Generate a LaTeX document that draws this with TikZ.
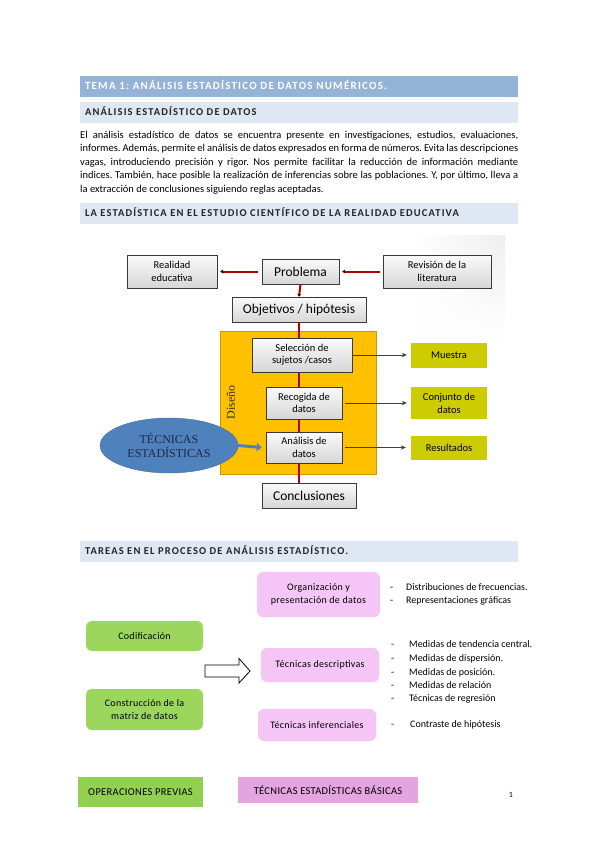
\documentclass[tikz,border=0pt]{standalone}
\usepackage{fontspec}
\setmainfont{Carlito}
\newfontfamily\capsfont[LetterSpace=11]{Carlito}
\newfontfamily\lsfont[LetterSpace=3]{Carlito}
\newfontfamily\serifont{Liberation Serif}
\usetikzlibrary{shapes.geometric,arrows.meta,shadows,fadings}
\definecolor{barblue}{RGB}{149,179,215}
\definecolor{barlight}{RGB}{222,231,242}
\definecolor{orangeD}{RGB}{255,192,0}
\definecolor{oliveY}{RGB}{204,204,0}
\definecolor{ellblue}{RGB}{79,129,189}
\definecolor{darkred}{RGB}{175,0,0}
\definecolor{greenbox}{RGB}{156,214,92}
\definecolor{greenop}{RGB}{146,208,80}
\definecolor{pinkbox}{RGB}{245,198,245}
\definecolor{pinkop}{RGB}{228,164,224}
\definecolor{ellText}{RGB}{30,40,70}
\frenchspacing
\begin{document}
\begin{tikzpicture}[x=1pt,y=-1pt,
  bar/.style={rectangle, fill=barlight, minimum width=438, minimum height=21, inner xsep=5, text width=428, align=left, text height=7.5, text depth=2, font=\capsfont\bfseries\fontsize{10.5}{12}\selectfont, text=black!85},
  gbox/.style={rectangle, top color=gray!4, bottom color=gray!32, draw=gray!45!black, line width=0.5pt, align=center, inner sep=1, drop shadow={opacity=0.35, shadow xshift=1.2pt, shadow yshift=-1.2pt}},
  obox/.style={rectangle, fill=oliveY, align=center, inner sep=1, minimum width=76, font=\fontsize{10.5}{13}\selectfont},
  redline/.style={draw=darkred, line width=2pt},
  garrow/.style={draw=black!75, line width=0.8pt, -{Stealth[length=5pt,width=4.5pt]}},
  pbox/.style={rectangle, rounded corners=6, fill=pinkbox, align=center, font=\lsfont\fontsize{10}{13}\selectfont},
  grbox/.style={rectangle, rounded corners=6, fill=greenbox, align=center, font=\lsfont\fontsize{10}{13}\selectfont},
  bul/.style={anchor=base west, inner sep=0, font=\fontsize{10}{12}\selectfont}
]
\useasboundingbox (0,0) rectangle (599,848);
\fill[white] (0,0) rectangle (599,848);

% header bars
\node[bar, fill=barblue, text=white, font=\capsfont\bfseries\fontsize{11}{13}\selectfont] (bar1) at (299,86.5) {TEMA 1: ANÁLISIS ESTADÍSTICO DE DATOS NUMÉRICOS.};
\node[bar] (bar2) at (299,113) {ANÁLISIS ESTADÍSTICO DE DATOS};

% paragraph
\node[anchor=north west, inner sep=0, text width=438, align=justify, font=\fontsize{10.5}{13.5}\selectfont] (par) at (80,130.6) {El análisis estadístico de datos se encuentra presente en investigaciones, estudios, evaluaciones,\linebreak informes. Además, permite el análisis de datos expresados en forma de números. Evita las descripciones\linebreak vagas, introduciendo precisión y rigor. Nos permite facilitar la reducción de información mediante\linebreak indices. También, hace posible la realización de inferencias sobre las poblaciones. Y, por último, lleva a\linebreak la extracción de conclusiones siguiendo reglas aceptadas.};

\node[bar] (bar3) at (299,213.5) {LA ESTADÍSTICA EN EL ESTUDIO CIENTÍFICO DE LA REALIDAD EDUCATIVA};

% flowchart background tint
\shade[left color=white, right color=gray!13, path fading=south] (415,236) rectangle (505,338);

% top row
\node[gbox, minimum width=90, minimum height=33, font=\fontsize{10.5}{12.5}\selectfont] (real) at (172,271.5) {Realidad\\educativa};
\node[gbox, minimum width=77, minimum height=25, font=\fontsize{13.5}{15}\selectfont] (prob) at (300.5,271.5) {Problema};
\node[gbox, minimum width=108, minimum height=33, font=\fontsize{10.5}{12.5}\selectfont] (rev) at (437,271.5) {Revisión de la\\literatura};
\node[gbox, minimum width=134, minimum height=25, font=\fontsize{13.5}{15}\selectfont] (obj) at (299,309.5) {Objetivos / hipótesis};

\draw[redline, {Stealth[black,length=3pt,width=4pt]}-] ([xshift=3pt]real.east) -- ([xshift=-4pt]prob.west);
\draw[redline, {Stealth[black,length=3pt,width=4pt]}-] ([xshift=3pt]prob.east) -- ([xshift=-3pt]rev.west);
\draw[redline, -{Stealth[black,length=3pt,width=4pt]}] (prob.south) -- (obj.north);

% design box
\node[rectangle, fill=orangeD, draw=orangeD!80!black, line width=0.5pt, minimum width=156, minimum height=143] (dis) at (298.5,402.5) {};
\node[rotate=90, font=\serifont\fontsize{12}{14}\selectfont, text=black!80, inner sep=0] (dislab) at (231,402) {Diseño};
\node[gbox, minimum width=94, minimum height=25, font=\fontsize{13.5}{15}\selectfont] (concl) at (309,495.5) {Conclusiones};
\draw[redline] (obj.south) -- (obj.south |- concl.north);

\node[gbox, minimum width=100, minimum height=34, font=\fontsize{10.5}{12.5}\selectfont] (sel) at (302,355) {Selección de\\sujetos /casos};
\node[gbox, minimum width=76, minimum height=32, font=\fontsize{10.5}{12.5}\selectfont] (rec) at (304,403) {Recogida de\\datos};
\node[gbox, minimum width=76, minimum height=31, font=\fontsize{10.5}{12.5}\selectfont] (ana) at (304,447.5) {Análisis de\\datos};

% right outputs
\node[obox, minimum height=25] (mue) at (449,355) {Muestra};
\node[obox, minimum height=32] (conj) at (449,403) {Conjunto de\\datos};
\node[obox, minimum height=24] (res) at (449,447.5) {Resultados};
\draw[garrow, shorten >=4pt] (sel.east) -- (mue.west);
\draw[garrow, shorten <=3pt, shorten >=4pt] (rec.east) -- (conj.west);
\draw[garrow, shorten <=3pt, shorten >=5pt] (ana.east) -- (res.west);

% ellipse
\node[ellipse, fill=ellblue, draw=ellblue!85!black, line width=0.4pt, minimum width=138, minimum height=55, align=center, text=ellText, font=\serifont\fontsize{12}{14}\selectfont, inner sep=0] (ell) at (169,445.5) {TÉCNICAS\\ESTADÍSTICAS};
\draw[draw=ellblue, line width=3pt, -{Triangle[length=5pt,width=8pt]}] (ell.east) -- ([xshift=-4pt]ana.west);

\node[bar] (bar4) at (299,551.5) {TAREAS EN EL PROCESO DE ANÁLISIS ESTADÍSTICO.};

% lower section
\node[pbox, minimum width=123, minimum height=45] (org) at (318.5,594.5) {Organización y\\presentación de datos};
\node[grbox, minimum width=117, minimum height=30] (cod) at (144.5,636) {Codificación};
\node[grbox, minimum width=117, minimum height=41] (cons) at (144.5,709.5) {Construcción de la\\matriz de datos};
\node[pbox, minimum width=118, minimum height=34] (desc) at (320,665) {Técnicas descriptivas};
\node[pbox, minimum width=118, minimum height=32] (inf) at (317,725) {Técnicas inferenciales};

\draw[black, line width=0.8pt, fill=white] (205,665) -- (239,665) -- (239,658.5) -- (250,671) -- (239,683) -- (239,677) -- (205,677) -- cycle;

% bullets
\foreach \yy/\tt [count=\i] in {590.5/Distribuciones de frecuencias., 603.5/Representaciones gráficas}{
  \node[bul] (ob\i) at (406,\yy) {\tt};
  \node[bul] (obd\i) at (390,\yy) {-};
}
\foreach \yy/\tt [count=\i] in {647.5/Medidas de tendencia central., 661/Medidas de dispersión., 675/Medidas de posición., 688/Medidas de relación, 701.5/Técnicas de regresión}{
  \node[bul] (db\i) at (409,\yy) {\tt};
  \node[bul] (dbd\i) at (391,\yy) {-};
}
\node[bul] (ib1) at (410,727) {Contraste de hipótesis};
\node[bul] (ibd1) at (391,727) {-};

% legend boxes
\node[rectangle, fill=greenop, minimum width=125, minimum height=30, font=\lsfont\fontsize{10.5}{12}\selectfont] (opprev) at (140.5,792) {OPERACIONES PREVIAS};
\node[rectangle, fill=pinkop, minimum width=180, minimum height=26, font=\lsfont\fontsize{10.5}{12}\selectfont] (tecbas) at (328,790) {TÉCNICAS ESTADÍSTICAS BÁSICAS};
\node[font=\fontsize{8}{10}\selectfont, inner sep=0] (pnum) at (511,794.5) {1};
\end{tikzpicture}
\end{document}
